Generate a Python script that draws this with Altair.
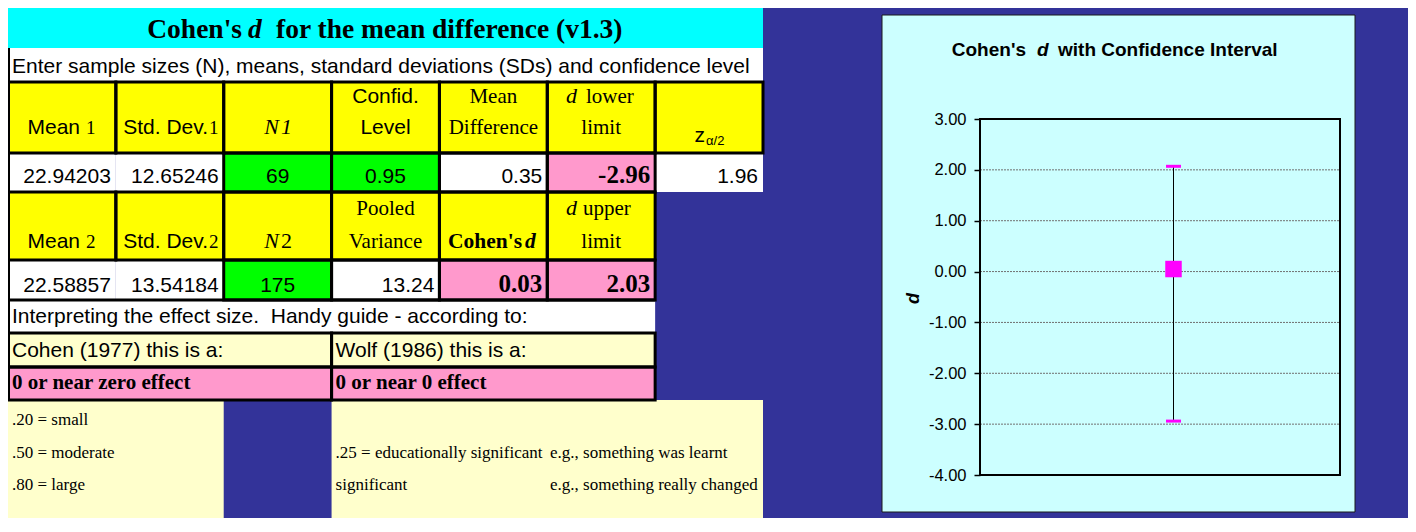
import altair as alt
import pandas as pd

# ---------------- values ----------------
TITLE = ["Cohen's", "d", "for the mean difference (v1.3)"]
INSTRUCTION = "Enter sample sizes (N), means, standard deviations (SDs) and confidence level"

MEAN1, SD1, N1, CONF = "22.94203", "12.65246", "69", "0.95"
MEAN_DIFF, D_LOWER, Z = "0.35", "-2.96", "1.96"
MEAN2, SD2, N2, POOLED = "22.58857", "13.54184", "175", "13.24"
COHEN_D, D_UPPER = "0.03", "2.03"

INTERP = "Interpreting the effect size.  Handy guide - according to:"
GUIDE_HEAD = ["Cohen (1977) this is a:", "Wolf (1986) this is a:"]
VERDICT = ["0 or near zero effect", "0 or near 0 effect"]
COHEN_GUIDE = [".20 = small", ".50 = moderate", ".80 = large"]
WOLF_GUIDE = [".25 = educationally significant", "significant"]
WOLF_EXAMPLE = ["e.g., something was learnt", "e.g., something really changed"]

CHART_TITLE = ["Cohen's", "d", "with Confidence Interval"]
CI_CATEGORY = ["Cohen's d"]
CI_D = [0.05]
CI_LOWER = [-2.94]
CI_UPPER = [2.07]
Y_TICKS = [3, 2, 1, 0, -1, -2, -3, -4]
GRID_VALUES = [2, 1, 0, -1, -2, -3]
Y_DOMAIN = [-4, 3]

# ---------------- layout (sheet grid, pixels) ----------------
W, H = 1400, 510
COLW = 755 / 7
CX = [i * COLW for i in range(8)]
RY = [-2, 40, 74, 145, 184, 252, 292, 325, 359, 392, 540]

SANS = "Liberation Sans, Arial"
SERIF = "Liberation Serif, Times New Roman"
S = 21  # sans cell text size

CYAN, WHITE, YELLOW, GREEN, PINK, LYEL = "#00FFFF", "#FFFFFF", "#FFFF00", "#00FF00", "#FF99CC", "#FFFFCC"
BLUE = "#333399"

XS = alt.Scale(domain=[0, W], range=[0, W], zero=False, nice=False)
YS = alt.Scale(domain=[0, H], range=[0, H], zero=False, nice=False)

# cells: (col0, col1, row, fill, border)
cells = [
    (0, 7, 0, CYAN, False),
    (0, 7, 1, WHITE, False),
]
for c in range(7):
    cells.append((c, c + 1, 2, YELLOW, True))
cells += [
    (0, 1, 3, WHITE, False), (1, 2, 3, WHITE, False), (2, 3, 3, GREEN, True),
    (3, 4, 3, GREEN, True), (4, 5, 3, WHITE, True), (5, 6, 3, PINK, True),
    (6, 7, 3, WHITE, False),
]
for c in range(6):
    cells.append((c, c + 1, 4, YELLOW, True))
cells += [
    (0, 1, 5, WHITE, False), (1, 2, 5, WHITE, False), (2, 3, 5, GREEN, True),
    (3, 4, 5, WHITE, True), (4, 5, 5, PINK, True), (5, 6, 5, PINK, True),
    (0, 6, 6, WHITE, False),
    (0, 3, 7, LYEL, True), (3, 6, 7, LYEL, True),
    (0, 3, 8, PINK, True), (3, 6, 8, PINK, True),
    (0, 2, 9, LYEL, False), (3, 7, 9, LYEL, False),
]
cell_df = pd.DataFrame([
    {"x": CX[a], "x2": CX[b], "y": RY[r], "y2": RY[r + 1], "fill": f, "border": bd}
    for a, b, r, f, bd in cells
])

fills = alt.Chart(cell_df).mark_rect(strokeWidth=0).encode(
    x=alt.X("x:Q", scale=XS, axis=None), x2="x2:Q",
    y=alt.Y("y:Q", scale=YS, axis=None), y2="y2:Q",
    color=alt.Color("fill:N", scale=None, legend=None),
)
borders = alt.Chart(cell_df[cell_df["border"]]).mark_rect(
    fillOpacity=0, stroke="black", strokeWidth=3
).encode(
    x=alt.X("x:Q", scale=XS, axis=None), x2="x2:Q",
    y=alt.Y("y:Q", scale=YS, axis=None), y2="y2:Q",
)
# single edges: left edge of the sheet block, top edge of the interpretation row
edge_df = pd.DataFrame([
    {"x": 0.5, "x2": 0.5, "y": RY[1], "y2": RY[9]},
    {"x": 0, "x2": CX[6], "y": RY[6], "y2": RY[6]},
])
edges = alt.Chart(edge_df).mark_rule(color="black", strokeWidth=3).encode(
    x=alt.X("x:Q", scale=XS, axis=None), x2="x2:Q",
    y=alt.Y("y:Q", scale=YS, axis=None), y2="y2:Q",
)


def left(c):
    return CX[c] + 4


def right(c):
    return CX[c + 1] - 5


def center(c):
    return (CX[c] + CX[c + 1]) / 2


texts = []


def t(text, x, y, size, font=SANS, align="left", weight="normal", style="normal"):
    texts.append(dict(text=text.replace("  ", " \u00a0"), x=x, y=y, size=size, font=font,
                      align=align, weight=weight, style=style))


# title
t(TITLE[0], 234, 30, 27.5, SERIF, "right", "bold")
t(TITLE[1], 240, 30, 27.5, SERIF, "left", "bold", "italic")
t(TITLE[2], 268, 30, 27.5, SERIF, "left", "bold")
t(INSTRUCTION, 4, 65, S)

# header row 1
t("Mean", 72, 126, S, align="right"); t("1", 78, 126, 19, SERIF)
t("Std. Dev.", 200, 126, S, align="right"); t("1", 201, 126, 19, SERIF)
t("N", 271, 126, 22, SERIF, "right", style="italic"); t("1", 273, 126, 22, SERIF, style="italic")
t("Confid.", center(3), 94.5, S, align="center"); t("Level", center(3), 126, S, align="center")
t("Mean", center(4), 94.5, 21, SERIF, "center"); t("Difference", center(4), 126, 21, SERIF, "center")
t("d", 569, 94.5, 22, SERIF, "right", style="italic"); t("lower", 578, 94.5, 21, SERIF)
t("limit", center(5), 126, 21, SERIF, "center")
t("z", 697, 134, S, align="right"); t("\u03b1/2", 698, 137, 13)

# data row 1
t(MEAN1, right(0), 175, S, align="right")
t(SD1, right(1), 175, S, align="right")
t(N1, center(2), 175, S, align="center")
t(CONF, center(3), 175, S, align="center")
t(MEAN_DIFF, right(4), 175, S, align="right")
t(D_LOWER, right(5), 175, 25, SERIF, "right", "bold")
t(Z, right(6), 175, S, align="right")

# header row 2
t("Mean", 72, 240, S, align="right"); t("2", 78, 240, 19, SERIF)
t("Std. Dev.", 200, 240, S, align="right"); t("2", 201, 240, 19, SERIF)
t("N", 271, 240, 22, SERIF, "right", style="italic"); t("2", 273, 240, 22, SERIF)
t("Pooled", center(3), 207, 21, SERIF, "center"); t("Variance", center(3), 240, 21, SERIF, "center")
t("Cohen's", 514, 240, 21.5, SERIF, "right", "bold"); t("d", 517, 240, 21.5, SERIF, "left", "bold", "italic")
t("d", 569, 207, 22, SERIF, "right", style="italic"); t("upper", 575, 207, 21, SERIF)
t("limit", center(5), 240, 21, SERIF, "center")

# data row 2
t(MEAN2, right(0), 284, S, align="right")
t(SD2, right(1), 284, S, align="right")
t(N2, center(2), 284, S, align="center")
t(POOLED, right(3), 284, S, align="right")
t(COHEN_D, right(4), 284, 25, SERIF, "right", "bold")
t(D_UPPER, right(5), 284, 25, SERIF, "right", "bold")

# interpretation block
t(INTERP, 4, 315, S)
t(GUIDE_HEAD[0], 4, 349, S); t(GUIDE_HEAD[1], left(3), 349, S)
t(VERDICT[0], 4, 381, 21, SERIF, weight="bold"); t(VERDICT[1], left(3), 381, 21, SERIF, weight="bold")
for txt, yy in zip(COHEN_GUIDE, [417, 450, 482]):
    t(txt, 4, yy, 17, SERIF)
for txt, yy in zip(WOLF_GUIDE, [450, 482]):
    t(txt, left(3), yy, 17, SERIF)
for txt, yy in zip(WOLF_EXAMPLE, [450, 482]):
    t(txt, 542, yy, 17, SERIF)

# chart title (sheet coordinates)
t(CHART_TITLE[0], 1018, 48, 19, SANS, "right", "bold")
t(CHART_TITLE[1], 1029, 48, 19, SANS, "left", "bold", "italic")
t(CHART_TITLE[2], 1050, 48, 19, SANS, "left", "bold")

text_df = pd.DataFrame(texts)
text_layers = []
for (font, align, weight, style), g in text_df.groupby(["font", "align", "weight", "style"]):
    text_layers.append(
        alt.Chart(g.reset_index(drop=True)).mark_text(
            align=align, baseline="alphabetic", font=font, fontWeight=weight,
            fontStyle=style, color="black",
        ).encode(
            x=alt.X("x:Q", scale=XS, axis=None),
            y=alt.Y("y:Q", scale=YS, axis=None),
            text="text:N",
            size=alt.Size("size:Q", scale=None, legend=None),
        )
    )

# ---------------- CI chart ----------------
BOX = pd.DataFrame({"x": [874], "x2": [1347], "y": [7], "y2": [504]})
box = alt.Chart(BOX).mark_rect(fill="#CCFFFF", stroke="#1a1a1a", strokeWidth=1).encode(
    x=alt.X("x:Q", scale=XS, axis=None), x2="x2:Q",
    y=alt.Y("y:Q", scale=YS, axis=None), y2="y2:Q",
)

CI_XS = alt.Scale(domain=[0, 1], range=[972, 1332], zero=False, nice=False)
CI_YS = alt.Scale(domain=Y_DOMAIN, range=[467, 111], zero=False, nice=False)
CAT_XS = alt.Scale(type="point", range=[972, 1359])

grid_df = pd.DataFrame({"v": GRID_VALUES, "a": 0, "b": 1})
grid = alt.Chart(grid_df).mark_rule(color="#707070", strokeWidth=1, strokeDash=[2, 1]).encode(
    x=alt.X("a:Q", scale=CI_XS, axis=None), x2="b:Q",
    y=alt.Y("v:Q", scale=CI_YS, axis=None),
)

frame_df = pd.DataFrame({"a": [0], "b": [1], "lo": [Y_DOMAIN[0]], "hi": [Y_DOMAIN[1]]})
frame = alt.Chart(frame_df).mark_rect(fillOpacity=0, stroke="black", strokeWidth=2).encode(
    x=alt.X("a:Q", scale=CI_XS, axis=None), x2="b:Q",
    y=alt.Y("lo:Q", scale=CI_YS, axis=alt.Axis(
        orient="left", offset=-972, values=Y_TICKS, zindex=2,
        labelExpr="(datum.value < 0 ? '-' : '') + format(abs(datum.value), '.2f')",
        labelFont=SANS, labelFontSize=16.5, labelColor="black", labelPadding=8,
        tickSize=6, tickColor="black", tickWidth=1.5, domain=False, grid=False,
        labelOverlap=False, labelFlush=False,
        title="d", titleFont=SANS, titleFontSize=18, titleFontWeight="bold",
        titleFontStyle="italic", titleAngle=270, titleX=-67, titleY=290,
        titleAlign="center", titleBaseline="middle", titleColor="black",
    )),
    y2="hi:Q",
)

ci_df = pd.DataFrame({"cat": CI_CATEGORY, "d": CI_D, "lo": CI_LOWER, "hi": CI_UPPER})
whisker = alt.Chart(ci_df).mark_rule(color="black", strokeWidth=1).encode(
    x=alt.X("cat:N", scale=CAT_XS, axis=None),
    y=alt.Y("lo:Q", scale=CI_YS, axis=None), y2="hi:Q",
)
caps_df = pd.DataFrame({"cat": CI_CATEGORY * 2, "v": CI_LOWER + CI_UPPER})
caps = alt.Chart(caps_df).mark_tick(orient="horizontal", size=15, thickness=3,
                                    color="#FF00FF", opacity=1).encode(
    x=alt.X("cat:N", scale=CAT_XS, axis=None),
    y=alt.Y("v:Q", scale=CI_YS, axis=None),
)
point = alt.Chart(ci_df).mark_square(size=272, color="#FF00FF", filled=True, opacity=1).encode(
    x=alt.X("cat:N", scale=CAT_XS, axis=None),
    y=alt.Y("d:Q", scale=CI_YS, axis=None),
)

chart = alt.layer(
    fills, borders, edges, box, grid, frame, whisker, caps, point, *text_layers
).resolve_scale(
    x="independent", y="independent"
).properties(
    width=W, height=H, padding=0, background=BLUE,
    autosize=alt.AutoSizeParams(type="none"),
).configure_view(stroke=None)

chart.save("out.html", embed_options={"renderer": "svg", "actions": False})
